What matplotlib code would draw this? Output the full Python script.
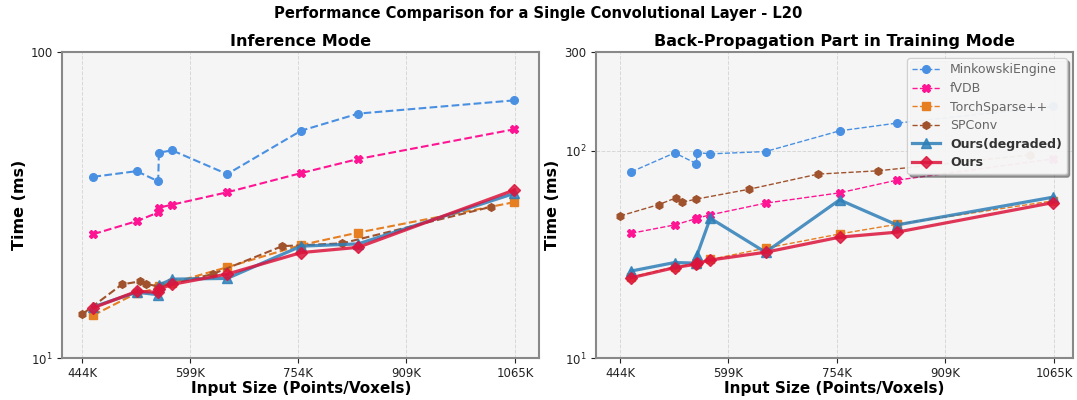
import matplotlib
matplotlib.use("Agg")
import matplotlib.pyplot as plt

# x positions in thousands of points/voxels
x_main = [460, 522, 553, 554, 573, 652, 758, 840, 1064]
x_spconv_inf = [444, 501, 527, 535, 554, 631, 731, 817, 1031]
x_spconv_bp = [444, 499, 524, 533, 552, 629, 727, 813, 1030]

# Inference mode (ms)
inf_minkowski = [39.1, 40.8, 37.8, 46.9, 47.7, 39.9, 55.3, 62.9, 69.5]
inf_fvdb = [25.4, 28.0, 29.9, 31.0, 31.7, 34.8, 40.2, 44.7, 55.9]
inf_torchsparse = [13.8, 16.3, 16.9, 17.2, 17.6, 19.8, 23.4, 25.7, 32.3]
inf_spconv = [13.9, 17.4, 17.8, 17.5, 17.1, 18.8, 23.2, 23.7, 31.2]
inf_degraded = [14.7, 16.4, 16.1, 17.3, 18.1, 18.2, 23.2, 23.6, 34.5]
inf_ours = [14.6, 16.5, 16.4, 16.8, 17.4, 18.8, 22.1, 23.0, 35.4]

# Back-propagation part in training mode (ms)
bp_minkowski = [79.2, 97.8, 86.8, 98.1, 96.7, 99.2, 124.9, 136.1, 163.7]
bp_fvdb = [40.0, 43.9, 47.1, 47.3, 49.1, 55.9, 62.7, 72.2, 91.5]
bp_torchsparse = [24.6, 27.5, 28.5, 28.6, 29.9, 33.9, 39.7, 44.2, 57.4]
bp_spconv = [48.5, 55.0, 59.3, 56.5, 58.4, 65.3, 77.2, 80.1, 95.6]
bp_degraded = [26.3, 28.9, 28.7, 31.4, 47.3, 32.4, 58.0, 43.9, 59.8]
bp_ours = [24.4, 27.3, 28.4, 28.6, 29.7, 32.4, 38.3, 40.5, 56.3]

xtick_vals = [444, 599, 754, 909, 1065]
xtick_labels = ["444K", "599K", "754K", "909K", "1065K"]

styles = {
    "MinkowskiEngine": dict(color="#4a90e2", ls="--", marker="o", ms=5.5),
    "fVDB": dict(color="#ff1493", ls="--", marker="X", ms=6),
    "TorchSparse++": dict(color="#e67e22", ls="--", marker="s", ms=5.5),
    "SPConv": dict(color="#a0522d", ls="--", marker="h", ms=5.5),
    "Ours(degraded)": dict(color="#2e7fb8", ls="-", marker="^", ms=6.5),
    "Ours": dict(color="#dc143c", ls="-", marker="D", ms=6.5),
}

fig, (ax1, ax2) = plt.subplots(1, 2, figsize=(10.77, 4.0), dpi=100)
fig.subplots_adjust(left=0.0576, right=0.9963, top=0.87, bottom=0.105, wspace=0.118)


def draw(ax, data, dash_lw, xlim):
    for name, xs, ys in data:
        st = styles[name]
        ours = name.startswith("Ours")
        ax.plot(xs, ys, linestyle=st["ls"], marker=st["marker"], color=st["color"],
                markersize=st["ms"], linewidth=2.3 if ours else dash_lw,
                alpha=0.85 if ours else 1.0, label=name, zorder=4 if ours else 3)
    ax.set_yscale("log")
    ax.set_facecolor("#f5f5f5")
    ax.grid(True, linestyle="--", color="#d0d0d0", linewidth=0.7, alpha=0.8)
    ax.minorticks_off()
    ax.set_xlim(*xlim)
    ax.set_xticks(xtick_vals)
    ax.set_xticklabels(xtick_labels)
    ax.set_xlabel("Input Size (Points/Voxels)", fontsize=11, fontweight="bold", labelpad=1)
    ax.set_ylabel("Time (ms)", fontsize=11.5, fontweight="bold", labelpad=3)
    for sp in ax.spines.values():
        sp.set_color("#888888")
        sp.set_linewidth(1.5)
    ax.tick_params(axis="both", labelsize=8.5, colors="#222222", pad=3)


draw(ax1, [
    ("MinkowskiEngine", x_main, inf_minkowski),
    ("fVDB", x_main, inf_fvdb),
    ("TorchSparse++", x_main, inf_torchsparse),
    ("SPConv", x_spconv_inf, inf_spconv),
    ("Ours(degraded)", x_main, inf_degraded),
    ("Ours", x_main, inf_ours),
], 1.5, (415, 1100))
ax1.set_ylim(10, 100)
ax1.set_yticks([10, 100])
ax1.set_yticklabels(["$10^1$", "100"])
ax1.set_title("Inference Mode", fontsize=11.5, fontweight="bold", pad=4)

draw(ax2, [
    ("MinkowskiEngine", x_main, bp_minkowski),
    ("fVDB", x_main, bp_fvdb),
    ("TorchSparse++", x_main, bp_torchsparse),
    ("SPConv", x_spconv_bp, bp_spconv),
    ("Ours(degraded)", x_main, bp_degraded),
    ("Ours", x_main, bp_ours),
], 1.0, (409, 1092))
ax2.set_ylim(10, 300)
ax2.set_yticks([10, 100, 300])
ax2.set_yticklabels(["$10^1$", "$10^2$", "300"])
ax2.set_title("Back-Propagation Part in Training Mode", fontsize=11.5, fontweight="bold", pad=4)

leg = ax2.legend(loc="upper right", fontsize=9, frameon=True, shadow=True,
                 framealpha=0.9, borderpad=0.4, labelspacing=0.45, handlelength=2.2)
for txt in leg.get_texts():
    if txt.get_text().startswith("Ours"):
        txt.set_fontweight("bold")
        txt.set_color("#333333")
    else:
        txt.set_color("#666666")

fig.suptitle("Performance Comparison for a Single Convolutional Layer - L20",
             fontsize=10.6, fontweight="bold", y=0.985)

fig.savefig("out.png", dpi=100)
